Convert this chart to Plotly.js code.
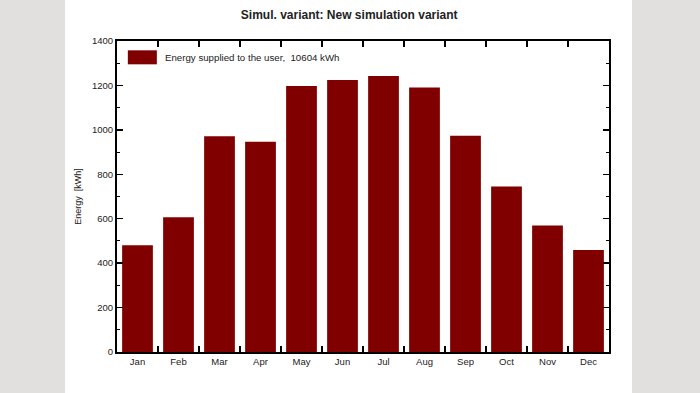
<!DOCTYPE html>
<html>
<head>
<meta charset="utf-8">
<script src="https://cdn.plot.ly/plotly-3.0.1.min.js"></script>
<style>
  html, body { margin: 0; padding: 0; }
  body {
    width: 700px; height: 393px; overflow: hidden;
    background: linear-gradient(to right, #e1e0de 0px, #e1e0de 65px, #ffffff 65px, #ffffff 632px, #e1e0de 632px, #e1e0de 700px);
  }
  #chart { width: 700px; height: 393px; }
</style>
</head>
<body>
<div id="chart"></div>
<script>
const months = ["Jan","Feb","Mar","Apr","May","Jun","Jul","Aug","Sep","Oct","Nov","Dec"];
const energySupplied = [481, 607, 971, 946, 1197, 1224, 1242, 1191, 974, 745, 570, 459];
const seriesName = "Energy supplied to the user,  10604 kWh";
const chartTitle = "Simul. variant: New simulation variant";
const yTitle = "Energy  [kWh]";

const fontFam = "Liberation Sans, Arial, sans-serif";
const barColor = "#800000";

const trace = {
  type: "bar",
  x: months,
  y: energySupplied,
  name: seriesName,
  marker: { color: barColor, line: { width: 0 } },
  showlegend: false,
  hoverinfo: "x+y"
};

const layout = {
  width: 700, height: 393,
  paper_bgcolor: "rgba(0,0,0,0)",
  plot_bgcolor: "#ffffff",
  margin: { l: 117, r: 91, t: 41, b: 41 },
  bargap: 0.25,
  font: { family: fontFam, size: 9.5, color: "#222222" },
  title: {
    text: "<b>" + chartTitle + "</b>",
    font: { family: fontFam, size: 12, color: "#222222" },
    x: 0.472, xanchor: "center", xref: "paper",
    y: 0.962, yanchor: "middle", yref: "container"
  },
  xaxis: {
    type: "category",
    tickson: "boundaries",
    ticks: "inside", ticklen: 6, tickwidth: 1.5, tickcolor: "#000",
    showline: true, linecolor: "#000", linewidth: 2, mirror: "ticks",
    showgrid: false, zeroline: false,
    tickfont: { family: fontFam, size: 9.5, color: "#222" },
    range: [-0.5, 11.5]
  },
  yaxis: {
    range: [0, 1400], dtick: 200, tick0: 0,
    ticks: "inside", ticklen: 6, tickwidth: 1.5, tickcolor: "#000",
    minor: { dtick: 100, ticks: "inside", ticklen: 3, tickwidth: 1, tickcolor: "#000" },
    showline: true, linecolor: "#000", linewidth: 2, mirror: "ticks",
    showgrid: false, zeroline: false,
    tickfont: { family: fontFam, size: 9.5, color: "#222" },
    title: { text: yTitle, font: { family: fontFam, size: 9, color: "#222" }, standoff: 9 }
  },
  shapes: [{
    type: "rect", xref: "paper", yref: "paper",
    x0: 0.022, x1: 0.081, y0: 0.925, y1: 0.970,
    fillcolor: barColor, line: { width: 0 }
  }],
  annotations: [{
    xref: "paper", yref: "paper",
    x: 0.093, y: 0.948, xanchor: "left", yanchor: "middle",
    text: seriesName, showarrow: false,
    font: { family: fontFam, size: 9.7, color: "#222" }
  }]
};

Plotly.newPlot("chart", [trace], layout, { displayModeBar: false, staticPlot: true });
</script>
</body>
</html>
